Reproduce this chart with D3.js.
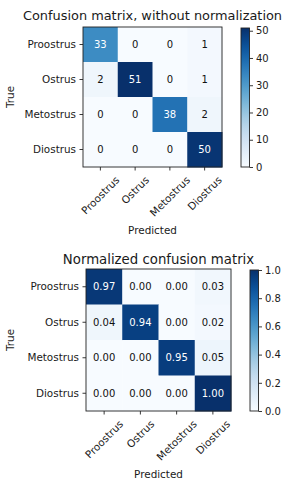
<!DOCTYPE html>
<html>
<head>
<meta charset="utf-8">
<script src="https://cdn.jsdelivr.net/npm/d3@7"></script>
<style>
  body { margin: 0; background: #fff; }
  svg { display: block; }
  text { font-family: "DejaVu Sans", sans-serif; fill: #1a1a1a; }
</style>
</head>
<body>
<svg id="chart" width="290" height="480"></svg>
<script>
'use strict';

// data
const classes = ['Proostrus', 'Ostrus', 'Metostrus', 'Diostrus'];
const counts = [
  [33, 0, 0, 1],
  [2, 51, 0, 1],
  [0, 0, 38, 2],
  [0, 0, 0, 50]
];
const normalized = [
  [0.97, 0.00, 0.00, 0.03],
  [0.04, 0.94, 0.00, 0.02],
  [0.00, 0.00, 0.95, 0.05],
  [0.00, 0.00, 0.00, 1.00]
];
const countTicks = [0, 10, 20, 30, 40, 50];
const normTicks = [0, 0.2, 0.4, 0.6, 0.8, 1.0];

const $svg = d3.select('#chart');
const $defs = $svg.append('defs');

const drawMatrix = (cfg) => {
  const [bx, by, bw, bh] = cfg.box;
  const vmax = d3.max(cfg.data.flat());
  const color = d3.scaleSequential(d3.interpolateBlues).domain([0, vmax]);
  const x = d3.scaleBand().domain(d3.range(classes.length)).range([bx, bx + bw]);
  const y = d3.scaleBand().domain(d3.range(classes.length)).range([by, by + bh]);
  const $g = $svg.append('g');

  // title
  $g.append('text')
    .attr('x', bx + bw / 2)
    .attr('y', cfg.titleY)
    .attr('text-anchor', 'middle')
    .style('font-size', cfg.titleSize + 'px')
    .text(cfg.title);

  // cells
  const cells = [];
  cfg.data.forEach((row, i) => row.forEach((v, j) => cells.push({i, j, v})));
  $g.append('g').selectAll('rect')
    .data(cells)
    .enter()
    .append('rect')
    .attr('x', (d) => x(d.j))
    .attr('y', (d) => y(d.i))
    .attr('width', x.bandwidth() + 0.5)
    .attr('height', y.bandwidth() + 0.5)
    .attr('fill', (d) => color(d.v));

  $g.append('g').selectAll('text')
    .data(cells)
    .enter()
    .append('text')
    .attr('x', (d) => x(d.j) + x.bandwidth() / 2)
    .attr('y', (d) => y(d.i) + y.bandwidth() / 2)
    .attr('text-anchor', 'middle')
    .attr('dy', '0.36em')
    .style('font-size', '10px')
    .style('fill', (d) => d.v > vmax / 2 ? '#fff' : '#111')
    .text((d) => cfg.fmt(d.v));

  // frame
  $g.append('rect')
    .attr('x', bx).attr('y', by).attr('width', bw).attr('height', bh)
    .attr('fill', 'none').attr('stroke', '#222').attr('stroke-width', 0.9);

  // y ticks
  const $yt = $g.append('g').selectAll('g').data(classes).enter().append('g');
  $yt.append('line')
    .attr('x1', bx - 3.5).attr('x2', bx)
    .attr('y1', (d, i) => y(i) + y.bandwidth() / 2)
    .attr('y2', (d, i) => y(i) + y.bandwidth() / 2)
    .attr('stroke', '#222').attr('stroke-width', 0.9);
  $yt.append('text')
    .attr('x', bx - 7)
    .attr('y', (d, i) => y(i) + y.bandwidth() / 2)
    .attr('dy', '0.36em')
    .attr('text-anchor', 'end')
    .style('font-size', '10.4px')
    .text((d) => d);

  // x ticks, rotated 45 with the bbox centred on the tick
  const $xt = $g.append('g').selectAll('g').data(classes).enter().append('g');
  $xt.append('line')
    .attr('y1', by + bh).attr('y2', by + bh + 3.5)
    .attr('x1', (d, i) => x(i) + x.bandwidth() / 2)
    .attr('x2', (d, i) => x(i) + x.bandwidth() / 2)
    .attr('stroke', '#222').attr('stroke-width', 0.9);
  $xt.append('text')
    .attr('text-anchor', 'middle')
    .attr('dy', '0.36em')
    .style('font-size', '10.4px')
    .text((d) => d)
    .each(function(d, i) {
      const w = this.getComputedTextLength();
      const h = 10.4 * 1.1;
      const side = (w + h) * Math.SQRT1_2;
      const cx = x(i) + x.bandwidth() / 2;
      const cy = by + bh + 7 + side / 2;
      d3.select(this)
        .attr('x', cx).attr('y', cy)
        .attr('transform', 'rotate(-45,' + cx + ',' + cy + ')');
    });

  // axis labels
  $g.append('text')
    .attr('x', bx + bw / 2)
    .attr('y', cfg.xlabelY)
    .attr('text-anchor', 'middle')
    .style('font-size', '10.4px')
    .text('Predicted');
  $g.append('text')
    .attr('transform', 'translate(' + cfg.ylabelX + ',' + (by + bh / 2) + ') rotate(-90)')
    .attr('text-anchor', 'middle')
    .attr('dy', '0.36em')
    .style('font-size', '10.4px')
    .text('True');

  // colorbar
  const [cx, cy, cw, ch] = cfg.bar;
  const gid = 'grad' + cfg.id;
  const $grad = $defs.append('linearGradient')
    .attr('id', gid).attr('x1', 0).attr('y1', 1).attr('x2', 0).attr('y2', 0);
  d3.range(0, 1.0001, 0.05).forEach((t) => {
    $grad.append('stop').attr('offset', t).attr('stop-color', d3.interpolateBlues(t));
  });
  $g.append('rect')
    .attr('x', cx).attr('y', cy).attr('width', cw).attr('height', ch)
    .attr('fill', 'url(#' + gid + ')')
    .attr('stroke', '#222').attr('stroke-width', 0.9);

  const cscale = d3.scaleLinear().domain([0, vmax]).range([cy + ch, cy]);
  const $axis = $g.append('g')
    .attr('transform', 'translate(' + (cx + cw) + ',0)')
    .call(d3.axisRight(cscale).tickValues(cfg.ticks).tickFormat(cfg.tickFmt)
      .tickSize(3.5).tickPadding(3));
  $axis.select('.domain').remove();
  $axis.selectAll('line').attr('stroke', '#222').attr('stroke-width', 0.9);
  $axis.selectAll('text')
    .style('font-size', '10px')
    .style('font-family', '"DejaVu Sans", sans-serif')
    .attr('fill', '#1a1a1a');
};

drawMatrix({
  id: 'a',
  title: 'Confusion matrix, without normalization',
  titleSize: 12.9,
  titleY: 20,
  data: counts,
  fmt: d3.format('d'),
  ticks: countTicks,
  tickFmt: d3.format('d'),
  box: [83, 27, 139, 140],
  bar: [241, 28, 8.5, 139],
  xlabelY: 234,
  ylabelX: 10
});

drawMatrix({
  id: 'b',
  title: 'Normalized confusion matrix',
  titleSize: 13.3,
  titleY: 264,
  data: normalized,
  fmt: d3.format('.2f'),
  ticks: normTicks,
  tickFmt: d3.format('.1f'),
  box: [86, 269, 145, 142],
  bar: [250, 270, 8.5, 141],
  xlabelY: 478,
  ylabelX: 10
});
</script>
</body>
</html>
